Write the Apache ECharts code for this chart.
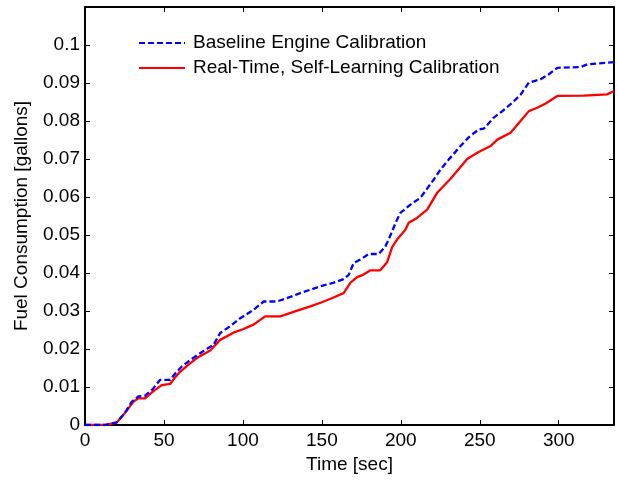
<!DOCTYPE html>
<html>
<head>
<meta charset="utf-8">
<script src="https://cdn.jsdelivr.net/npm/echarts@6/dist/echarts.min.js"></script>
<style>
  html, body { margin: 0; padding: 0; background: #fff; }
  #chart { width: 618px; height: 480px; }
</style>
</head>
<body>
<div id="chart"></div>
<script>
// Cumulative fuel use over a drive cycle, two engine calibrations
const baselineName = 'Baseline Engine Calibration';
const selfLearnName = 'Real-Time, Self-Learning Calibration';

const baselineTime = [0, 13, 20, 25, 29.6, 33.8, 38, 43, 47.6, 53.9, 57, 61.3, 67, 72.9, 81.4, 85.6, 92, 98.3, 106.7, 113.1, 121.5, 130, 136.3, 142.7, 149, 157, 163.8, 167, 170.1, 175, 179.6, 186, 190.2, 192.5, 194.5, 197, 199.7, 206.1, 212.4, 220.9, 225.1, 230.4, 237.8, 243, 249.4, 252.6, 258.9, 264, 270.6, 276, 281.1, 288.5, 293.8, 299.1, 313.9, 318.1, 335];
const baselineFuel = [0, 0, 0.0007, 0.003, 0.0061, 0.0075, 0.0077, 0.0095, 0.0119, 0.0119, 0.0135, 0.0154, 0.0172, 0.0189, 0.0211, 0.0242, 0.026, 0.0281, 0.0303, 0.0325, 0.0325, 0.0337, 0.0347, 0.0356, 0.0365, 0.0374, 0.0384, 0.0395, 0.0426, 0.0437, 0.045, 0.045, 0.047, 0.049, 0.051, 0.0535, 0.0558, 0.058, 0.0598, 0.0646, 0.0672, 0.0699, 0.0734, 0.0757, 0.0778, 0.078, 0.0809, 0.0825, 0.0848, 0.087, 0.0901, 0.091, 0.0923, 0.094, 0.0942, 0.0949, 0.0955];

const selfLearnTime = [0, 13, 20, 25, 30.6, 33.8, 38, 43, 48.6, 53.9, 57, 60.2, 65, 70.8, 79.3, 85.6, 94, 100, 106.7, 114.1, 123.7, 133, 142.7, 150, 157, 163.8, 168, 172.3, 176, 180.7, 187, 191.3, 194.5, 197.6, 202.9, 205, 210.3, 216.7, 223, 231.5, 237, 242, 249, 256.8, 261.1, 269.5, 275.8, 281.1, 286.4, 291.7, 299.1, 316, 330.6, 335];
const selfLearnFuel = [0, 0, 0.0006, 0.003, 0.0061, 0.007, 0.007, 0.0088, 0.0105, 0.0108, 0.0125, 0.014, 0.0157, 0.0176, 0.0196, 0.0224, 0.0243, 0.0252, 0.0264, 0.0286, 0.0286, 0.0299, 0.0312, 0.0323, 0.0335, 0.0347, 0.0374, 0.0389, 0.0395, 0.0407, 0.0407, 0.0428, 0.0468, 0.0488, 0.0514, 0.0532, 0.0545, 0.0567, 0.0611, 0.0648, 0.0675, 0.07, 0.0718, 0.0734, 0.0751, 0.0769, 0.08, 0.0826, 0.0835, 0.0846, 0.0866, 0.0867, 0.087, 0.0879];

const xTitle = 'Time [sec]';
const yTitle = 'Fuel Consumption [gallons]';
const xMax = 335, xStep = 50, xLabelMax = 300;
const yMax = 0.11, yStep = 0.01, yLabelMax = 0.1;

const pairs = (xs, ys) => xs.map((x, i) => [x, ys[i]]);

const FONT = '"Liberation Sans", Arial, sans-serif';
const axisLine = { show: true, onZero: false, lineStyle: { color: '#000', width: 2 } };
const tick = { show: true, inside: true, length: 5, lineStyle: { color: '#000', width: 1 } };
const label = { color: '#000', fontFamily: FONT, fontSize: 19 };

const chart = echarts.init(document.getElementById('chart'), null, { renderer: 'canvas' });
chart.setOption({
  backgroundColor: '#fff',
  animation: false,
  grid: { left: 85, right: 4, top: 7, bottom: 55, containLabel: false },
  legend: {
    orient: 'vertical',
    left: 133,
    top: 27,
    itemWidth: 46,
    itemHeight: 14,
    itemGap: 3,
    // line-only keys: the marker circle is hidden, the stroke stays
    itemStyle: { opacity: 0 },
    textStyle: { color: '#000', fontFamily: FONT, fontSize: 19, lineHeight: 22, padding: [0, 0, 0, 3] },
    data: [baselineName, selfLearnName]
  },
  xAxis: [
    {
      type: 'value', min: 0, max: xMax, interval: xStep, position: 'bottom',
      axisLine, axisTick: tick, splitLine: { show: false },
      axisLabel: Object.assign({ margin: 6, showMaxLabel: true,
        formatter: v => (v <= xLabelMax ? String(v) : '') }, label),
      name: xTitle, nameLocation: 'middle', nameGap: 29,
      nameTextStyle: { color: '#000', fontFamily: FONT, fontSize: 19 }
    },
    {
      type: 'value', min: 0, max: xMax, interval: xStep, position: 'top',
      axisLine, axisTick: tick, axisLabel: { show: false }, splitLine: { show: false }
    }
  ],
  yAxis: [
    {
      type: 'value', min: 0, max: yMax, interval: yStep, position: 'left',
      axisLine, axisTick: tick, splitLine: { show: false },
      axisLabel: Object.assign({ margin: 5,
        formatter: v => (v <= yLabelMax + 1e-9 ? String(Number(v.toFixed(2))) : '') }, label),
      name: yTitle, nameLocation: 'middle', nameGap: 54,
      nameTextStyle: { color: '#000', fontFamily: FONT, fontSize: 19 }
    },
    {
      type: 'value', min: 0, max: yMax, interval: yStep, position: 'right',
      axisLine, axisTick: tick, axisLabel: { show: false }, splitLine: { show: false }
    }
  ],
  series: [
    {
      name: baselineName, type: 'line', data: pairs(baselineTime, baselineFuel),
      showSymbol: false, symbol: 'none', z: 3,
      itemStyle: { color: '#0000ff' },
      lineStyle: { color: '#0000ff', width: 2.3, type: [6, 3] }
    },
    {
      name: selfLearnName, type: 'line', data: pairs(selfLearnTime, selfLearnFuel),
      showSymbol: false, symbol: 'none', z: 2,
      itemStyle: { color: '#ff0000' },
      lineStyle: { color: '#ff0000', width: 2.3 }
    }
  ]
});
</script>
</body>
</html>
